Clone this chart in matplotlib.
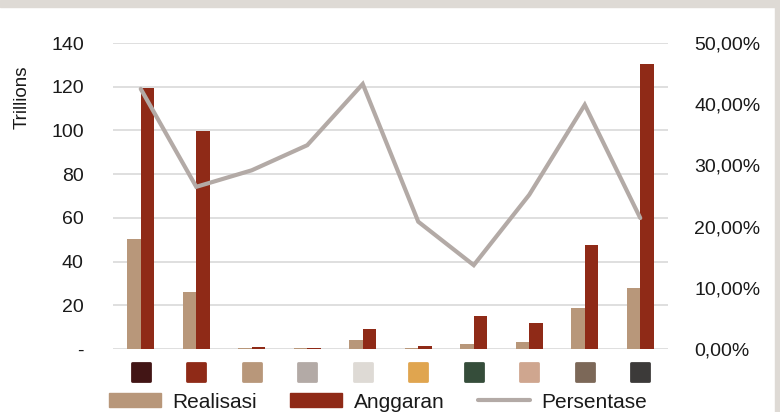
import matplotlib.pyplot as plt
import numpy as np
from matplotlib.markers import MarkerStyle
from matplotlib.patches import Rectangle
from matplotlib.lines import Line2D
from matplotlib.transforms import blended_transform_factory

plt.rcParams['font.family'] = ['Liberation Sans', 'DejaVu Sans']

# trillions
realisasi = [50.3, 26.2, 0.5, 0.3, 4.1, 0.4, 2.1, 3.0, 18.8, 27.9]
anggaran = [119.4, 99.7, 1.1, 0.4, 9.1, 1.2, 15.2, 11.9, 47.4, 130.4]
persentase = [0.425, 0.265, 0.292, 0.333, 0.433, 0.208, 0.137, 0.252, 0.399, 0.214]
cat_colors = ['#421515', '#8f2a17', '#b8977a', '#b3aaa6', '#dedad5',
              '#e0a54f', '#354d3a', '#cfa68f', '#7c6858', '#3c3a39']

W, H = 780, 412
fig = plt.figure(figsize=(W / 100, H / 100), dpi=100)
fig.patch.set_facecolor('white')

# grey frame strips along top and right edge
fig.patches.append(Rectangle((0, 1 - 7 / H), 1, 7 / H, transform=fig.transFigure,
                             color='#dedad5', zorder=0))
fig.patches.append(Rectangle((1 - 5 / W, 0), 5 / W, 1, transform=fig.transFigure,
                             color='#dedad5', zorder=0))

ax = fig.add_axes([113 / W, 63 / H, 555 / W, 306 / H])
x = np.arange(len(realisasi))
bw = 0.245
ax.bar(x - bw / 2, realisasi, bw, color='#b8977a', zorder=2)
ax.bar(x + bw / 2, anggaran, bw, color='#8f2a17', zorder=2)

ax.set_xlim(-0.5, len(x) - 0.5)
ax.set_ylim(0, 140)
ax.set_yticks(range(0, 141, 20))
ax.set_yticklabels(['-'] + [str(v) for v in range(20, 141, 20)])
ax.yaxis.grid(True, color='#d9d9d9', lw=1.2, zorder=0)
ax.set_axisbelow(True)
ax.set_xticks([])
for s in ax.spines.values():
    s.set_visible(False)
ax.tick_params(axis='y', length=0, pad=21, labelsize=14, labelcolor='#1a1a1a')

# category markers below the axis
tr = blended_transform_factory(ax.transData, ax.transAxes)
ms = MarkerStyle('s', joinstyle='round')
for xi, c in zip(x, cat_colors):
    ax.plot(xi, -0.075, marker=ms, ms=13, mfc=c, mec=c, mew=2,
            transform=tr, clip_on=False, ls='none')

ax2 = ax.twinx()
ax2.plot(x, persentase, color='#b3aaa6', lw=3, solid_capstyle='round',
         solid_joinstyle='miter', zorder=3)
ax2.set_ylim(0, 0.5)
pct_ticks = np.arange(0, 0.51, 0.1)
ax2.set_yticks(pct_ticks)
ax2.set_yticklabels([('%.2f%%' % (v * 100)).replace('.', ',') for v in pct_ticks])
for s in ax2.spines.values():
    s.set_visible(False)
ax2.tick_params(axis='y', length=0, pad=19, labelsize=14, labelcolor='#1a1a1a')

fig.text(22 / W, 1 - 97 / H, 'Trillions', rotation=90, ha='center', va='center',
         fontsize=13.5, color='#1a1a1a')

handles = [Rectangle((0, 0), 1, 1, color='#b8977a'),
           Rectangle((0, 0), 1, 1, color='#8f2a17'),
           Line2D([0], [0], color='#b3aaa6', lw=3, solid_capstyle='round')]
fig.legend(handles, ['Realisasi', 'Anggaran', 'Persentase'], loc='center',
           bbox_to_anchor=(378 / W, 10 / H), ncol=3, frameon=False,
           fontsize=15, handlelength=2.5, handleheight=0.65, handletextpad=0.55,
           columnspacing=1.6, labelcolor='#1a1a1a', borderaxespad=0,
           borderpad=0)

fig.savefig('out.png', dpi=100)
